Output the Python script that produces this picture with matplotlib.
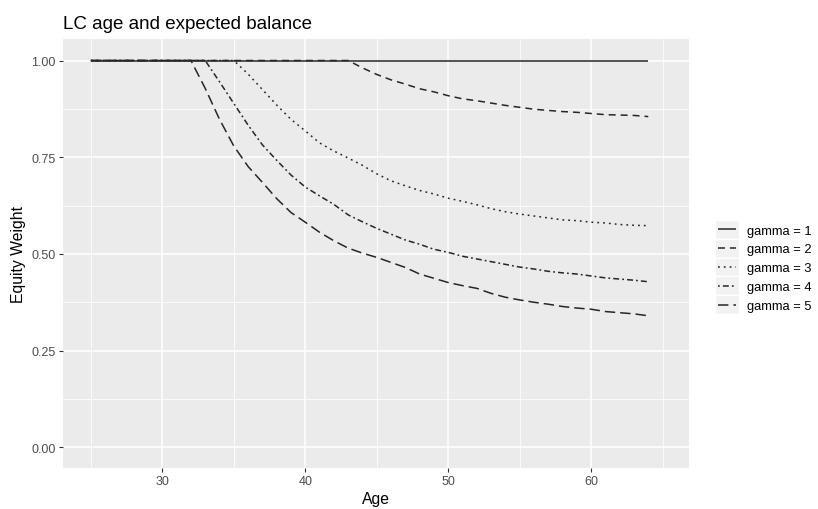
import matplotlib
matplotlib.use("Agg")
import matplotlib.pyplot as plt
from matplotlib.lines import Line2D
from matplotlib.patches import Rectangle
from matplotlib.legend_handler import HandlerBase
from matplotlib.ticker import FixedLocator, FormatStrFormatter

plt.rcParams['font.family'] = ['Liberation Sans', 'DejaVu Sans']
plt.rcParams['lines.scale_dashes'] = False

# ---------------- data ----------------
ages = [25, 26, 27, 28, 29, 30, 31, 32, 33, 34, 35, 36, 37, 38, 39, 40, 41, 42, 43, 44,
        45, 46, 47, 48, 49, 50, 51, 52, 53, 54, 55, 56, 57, 58, 59, 60, 61, 62, 63, 64]

gamma1 = [1.0, 1.0, 1.0, 1.0, 1.0, 1.0, 1.0, 1.0, 1.0, 1.0, 1.0, 1.0, 1.0, 1.0, 1.0, 1.0,
          1.0, 1.0, 1.0, 1.0, 1.0, 1.0, 1.0, 1.0, 1.0, 1.0, 1.0, 1.0, 1.0, 1.0, 1.0, 1.0,
          1.0, 1.0, 1.0, 1.0, 1.0, 1.0, 1.0, 1.0]

gamma2 = [1.0, 1.0, 1.0, 1.0, 1.0, 1.0, 1.0, 1.0, 1.0, 1.0, 1.0, 1.0, 1.0, 1.0, 1.0, 1.0,
          1.0, 1.0, 1.0, 0.981, 0.964, 0.950, 0.939, 0.927, 0.919, 0.909, 0.901, 0.896,
          0.890, 0.884, 0.879, 0.874, 0.871, 0.868, 0.866, 0.863, 0.860, 0.859, 0.858, 0.855]

gamma3 = [1.0, 1.0, 1.0, 1.0, 1.0, 1.0, 1.0, 1.0, 1.0, 1.0, 1.0, 0.965, 0.925, 0.885,
          0.848, 0.818, 0.787, 0.766, 0.748, 0.729, 0.707, 0.689, 0.676, 0.664, 0.655,
          0.644, 0.636, 0.627, 0.617, 0.609, 0.603, 0.598, 0.593, 0.588, 0.586, 0.582,
          0.580, 0.576, 0.574, 0.573]

gamma4 = [1.0, 1.0, 1.0, 1.0, 1.0, 1.0, 1.0, 1.0, 1.0, 0.945, 0.889, 0.833, 0.782, 0.742,
          0.704, 0.673, 0.650, 0.628, 0.601, 0.583, 0.566, 0.551, 0.536, 0.525, 0.512,
          0.504, 0.494, 0.487, 0.480, 0.473, 0.466, 0.461, 0.455, 0.451, 0.448, 0.443,
          0.438, 0.435, 0.432, 0.428]

gamma5 = [1.0, 1.0, 1.0, 1.0, 1.0, 1.0, 1.0, 1.0, 0.928, 0.848, 0.779, 0.726, 0.685, 0.643,
          0.607, 0.582, 0.556, 0.534, 0.515, 0.502, 0.491, 0.478, 0.465, 0.448, 0.437,
          0.426, 0.418, 0.411, 0.398, 0.388, 0.381, 0.375, 0.370, 0.364, 0.360, 0.357,
          0.351, 0.348, 0.345, 0.340]

series_labels = ["gamma = 1", "gamma = 2", "gamma = 3", "gamma = 4", "gamma = 5"]
x_ticks = [30, 40, 50, 60]
y_ticks = [0.0, 0.25, 0.5, 0.75, 1.0]

# ---------------- styles ----------------
line_styles = [
    '-',
    (0, (5.0, 3.6)),                 # dashed
    (0, (1.3, 2.9)),                 # dotted
    (0, (1.3, 2.2, 4.3, 2.2)),       # dotdash
    (0, (7.5, 3.6)),                 # longdash
]
line_color = '#262626'
lw = 1.1

W, H = 818, 510
fig = plt.figure(figsize=(W / 100, H / 100), dpi=100)
left, right, top, bottom = 63, 689, 40, 469
ax = fig.add_axes([left / W, 1 - bottom / H, (right - left) / W, (bottom - top) / H])
ax.set_facecolor('#EBEBEB')
for s in ax.spines.values():
    s.set_visible(False)

series = [gamma1, gamma2, gamma3, gamma4, gamma5]
handles = []
style_of = {}
for vals, ls, lab in zip(series, line_styles, series_labels):
    h, = ax.plot(ages, vals, color=line_color, linestyle=ls, linewidth=lw, label=lab,
                 solid_capstyle='butt', dash_capstyle='butt', zorder=3)
    handles.append(h)
    style_of[lab] = ls

ax.set_xlim(23.05, 66.85)
ax.set_ylim(-0.0535, 1.0556)

ax.xaxis.set_major_locator(FixedLocator(x_ticks))
ax.xaxis.set_minor_locator(FixedLocator([25, 35, 45, 55, 65]))
ax.yaxis.set_major_locator(FixedLocator(y_ticks))
ax.yaxis.set_minor_locator(FixedLocator([0.125, 0.375, 0.625, 0.875]))
ax.yaxis.set_major_formatter(FormatStrFormatter('%.2f'))

ax.grid(which='major', color='white', linewidth=1.1, zorder=0)
ax.grid(which='minor', color='white', linewidth=0.55, zorder=0)
ax.set_axisbelow(True)

ax.tick_params(which='major', length=2.75, width=0.8, color='#333333',
               labelcolor='#4D4D4D', labelsize=9, pad=2.5)
ax.tick_params(which='minor', length=0)

ax.set_xlabel('Age', fontsize=11.3, color='black', labelpad=3)
ax.set_ylabel('Equity Weight', fontsize=11.3, color='black', labelpad=4)
ax.set_title('LC age and expected balance', loc='left', fontsize=13.5, color='black', pad=8)


class KeyHandler(HandlerBase):
    def create_artists(self, legend, orig_handle, xdescent, ydescent, width, height,
                       fontsize, trans):
        rect = Rectangle((-xdescent, -ydescent), width, height, facecolor='#F2F2F2',
                         edgecolor='white', linewidth=1.0, transform=trans)
        y = -ydescent + height / 2.0
        line = Line2D([-xdescent + 2, -xdescent + width - 2], [y, y],
                      color=orig_handle.get_color(),
                      linestyle=style_of[orig_handle.get_label()],
                      linewidth=orig_handle.get_linewidth(), transform=trans,
                      solid_capstyle='butt', dash_capstyle='butt')
        return [rect, line]


leg_fs = 9.3
fig.legend(handles=handles, labels=series_labels, loc='center left',
           bbox_to_anchor=(715 / W, 1 - 268 / H), frameon=False, fontsize=leg_fs,
           handlelength=24 / (leg_fs * 100 / 72), handleheight=24 / (leg_fs * 100 / 72),
           labelspacing=0.0, handletextpad=0.6, borderpad=0.0, borderaxespad=0.0,
           handler_map={Line2D: KeyHandler()})

fig.savefig('out.png', dpi=100)
